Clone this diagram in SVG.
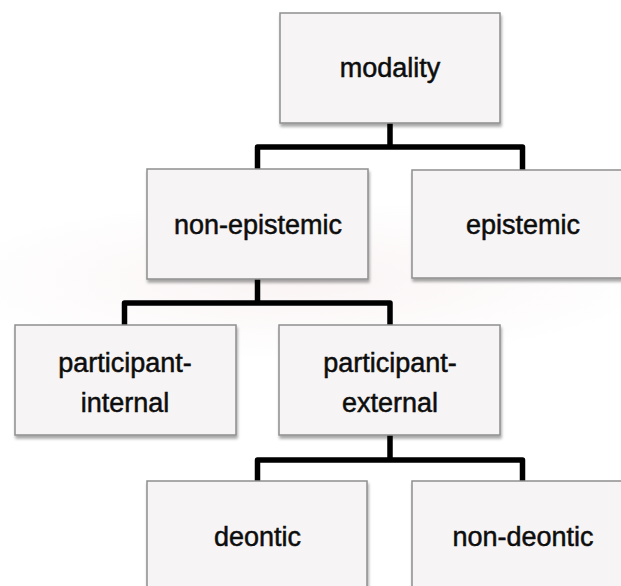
<svg xmlns="http://www.w3.org/2000/svg" width="621" height="586" viewBox="0 0 621 586">
  <style>
    .box { fill: #f6f4f4; stroke: #8e8e8e; stroke-width: 1.5; filter: url(#shadow); }
    .label { font-family: "Liberation Sans", Arial, Helvetica, sans-serif; font-size: 27px; fill: #0d0d0d; stroke: #0d0d0d; stroke-width: 0.5; text-anchor: middle; }
    .link { fill: none; stroke: #000; stroke-width: 5.5; stroke-linejoin: round; stroke-linecap: butt; }
  </style>
  <defs>
    <filter id="shadow" x="-10%" y="-10%" width="125%" height="130%">
      <feGaussianBlur in="SourceAlpha" stdDeviation="1.8"/>
      <feOffset dx="1" dy="3" result="blur"/>
      <feComponentTransfer><feFuncA type="linear" slope="0.35"/></feComponentTransfer>
      <feMerge><feMergeNode/><feMergeNode in="SourceGraphic"/></feMerge>
    </filter>
    <radialGradient id="tint" cx="0.5" cy="0.5" r="0.5">
      <stop offset="0" stop-color="#f7eced" stop-opacity="0.6"/>
      <stop offset="1" stop-color="#f7eced" stop-opacity="0"/>
    </radialGradient>
  </defs>

  <rect width="621" height="586" fill="#fff"/>
  <!-- faint background tint -->
  <ellipse cx="300" cy="280" rx="360" ry="80" fill="url(#tint)"/>

  <!-- connectors -->
  <g id="connectors">
    <path class="link" d="M390,123 V147 M257.5,169 V147 H522.5 V170"/>
    <path class="link" d="M257.5,279 V303 M124.5,325 V303 H390 V325"/>
    <path class="link" d="M390,435 V460 M257.5,481 V460 H522.5 V481"/>
  </g>

  <g id="modality">
    <rect class="box" x="280" y="13" width="220" height="110"/>
    <text class="label" x="390" y="77">modality</text>
  </g>

  <g id="non-epistemic">
    <rect class="box" x="147" y="169" width="221" height="110"/>
    <text class="label" x="258" y="234">non-epistemic</text>
  </g>

  <g id="epistemic">
    <rect class="box" x="412" y="170" width="221" height="108"/>
    <text class="label" x="523" y="234">epistemic</text>
  </g>

  <g id="participant-internal">
    <rect class="box" x="15" y="325" width="221" height="110"/>
    <text class="label" x="125" y="372">participant-</text>
    <text class="label" x="125" y="412">internal</text>
  </g>

  <g id="participant-external">
    <rect class="box" x="279" y="325" width="221" height="110"/>
    <text class="label" x="390" y="372">participant-</text>
    <text class="label" x="390" y="412">external</text>
  </g>

  <g id="deontic">
    <rect class="box" x="147" y="481" width="220" height="115"/>
    <text class="label" x="257.5" y="546">deontic</text>
  </g>

  <g id="non-deontic">
    <rect class="box" x="412" y="481" width="221" height="115"/>
    <text class="label" x="523" y="546">non-deontic</text>
  </g>
</svg>
